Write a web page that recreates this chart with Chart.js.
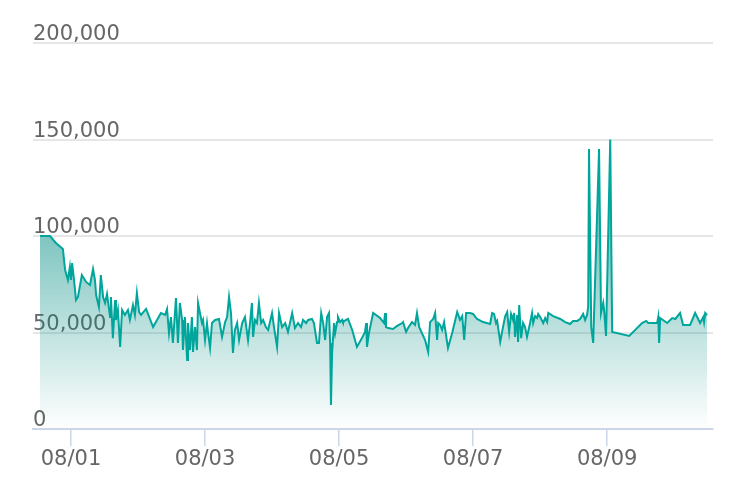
<!DOCTYPE html>
<html>
<head>
<meta charset="utf-8">
<script src="https://cdn.jsdelivr.net/npm/chart.js@4.4.1/dist/chart.umd.min.js"></script>
<style>
  html, body { margin: 0; padding: 0; background: #fff; }
  #wrap { width: 740px; height: 500px; }
</style>
</head>
<body>
<div id="wrap"><canvas id="myChart" width="740" height="500"></canvas></div>
<script>
// hours counted from 07/31 00:00
const hours = [
    12.9, 16.5, 18.6, 21.1, 21.9, 22.9, 23.6, 24.0, 24.4, 25.1,
    25.8, 26.5, 27.9, 29.4, 30.8, 31.9, 32.6, 33.0, 34.0, 34.7,
    35.5, 36.2, 36.9, 38.0, 38.3, 39.0, 39.8, 40.1, 40.8, 41.6,
    42.3, 43.3, 44.4, 45.1, 46.2, 46.9, 47.6, 48.4, 49.1, 50.9,
    53.4, 56.2, 57.7, 58.4, 59.1, 59.8, 60.5, 61.6, 62.3, 63.0,
    63.8,
    64.1, 64.8, 65.6, 65.9, 66.6, 67.3, 67.7, 68.4, 69.1, 69.5,
    70.2, 70.9, 71.3, 72.0, 72.7, 73.1, 73.8, 74.5, 75.6, 77.0,
    78.1, 79.2, 79.9, 80.6, 81.3, 82.0, 82.7, 83.5, 84.2, 85.3,
    86.3, 87.4, 88.1, 88.8, 89.2, 89.9, 90.6, 91.3, 92.1, 92.8,
    93.8, 94.6, 96.0, 96.7, 97.8, 98.5, 99.6, 100.7, 101.7, 103.2,
    104.2, 105.3, 106.4, 107.1, 108.2, 108.9, 110.3, 111.0, 112.1, 112.8,
    113.6, 114.3, 115.0, 115.7, 116.4,
    116.8, 117.1, 117.5, 118.2, 118.6, 119.3, 119.6, 120.4, 121.1, 121.4,
    122.5, 123.2, 124.7, 126.4, 128.2, 129.3, 129.7, 130.0, 130.7, 132.2,
    134.7, 136.1, 136.5, 136.8, 137.6, 139.3, 140.8, 142.6, 142.9, 144.0,
    144.7, 146.1, 147.2, 147.9, 148.7, 150.8, 151.9, 152.6, 153.7, 154.4,
    155.1, 155.5, 156.2, 156.9, 157.6, 159.0, 160.5, 162.3, 163.3, 164.1,
    164.8, 165.5, 166.9, 168.0,
    169.4, 171.6, 174.1, 174.8, 175.5, 176.2, 176.6, 177.7, 178.7, 179.5,
    180.2, 180.9, 181.6, 182.3, 182.7, 183.0, 183.8, 184.1, 184.5, 185.2,
    185.9, 186.6, 187.3, 187.7, 188.4, 189.1, 189.5, 190.2, 190.9, 191.3,
    192.0, 193.1, 193.8, 194.5, 194.9, 196.7, 199.2, 201.0, 202.7, 203.8,
    205.3, 206.3, 207.4, 208.1, 208.8, 209.2, 209.5, 210.3, 211.0, 213.1,
    213.8, 214.6, 214.9, 215.6, 217.1, 217.8, 223.9, 228.5, 230.0, 230.7,
    233.9, 234.3, 234.6, 235.0, 237.5, 239.3, 240.4, 242.1, 243.2, 245.7,
    247.5, 249.3, 250.4, 250.7, 251.1, 251.8
];

const visits = [
    100000, 100000, 96400, 93300, 82400, 77200, 83900, 77200, 86000, 77200,
    66800, 68400, 79800, 76200, 74600, 82900, 77200, 69400, 63200, 79800,
    68400, 65300, 69900, 58000, 68400, 47100, 66800, 56500, 61700, 42500,
    61700, 59100, 61700, 56500, 64200, 59100, 70500, 60600, 59100, 62200,
    52800, 60100, 59100, 62200, 49700, 58000, 44600, 67900, 44600, 65300,
    56500,
    40900, 58000, 35700, 54900, 40900, 58000, 39900, 52800, 40900, 65300,
    60100, 54900, 56500, 46100, 54900, 49700, 42000, 54900, 56500, 57000,
    47700, 55400, 58000, 68400, 60100, 39400, 51300, 54900, 46100, 54900,
    58000, 46100, 54900, 65300, 47700, 56500, 54900, 65300, 54900, 56500,
    52800, 51300, 60100, 52800, 42500, 60100, 52800, 54900, 50300, 60100,
    52300, 54900, 52800, 56500, 54900, 56500, 57000, 54900, 44600, 44600,
    60100, 54900, 46100, 58000, 60100,
    44600, 12400, 39400, 54900, 49700, 55400, 58000, 55400, 56500, 55400,
    56500, 57000, 51300, 42500, 47100, 50300, 54900, 42500, 49700, 60100,
    57500, 54900, 60100, 52800, 52300, 51800, 53400, 54900, 55400, 50300,
    52300, 55400, 53900, 60100, 52800, 46100, 39900, 55400, 57000, 60100,
    46100, 54900, 53900, 51300, 55400, 42000, 49700, 60600, 56500, 58500,
    46100, 60100, 60100, 59600,
    57000, 55400, 54400, 60100, 59600, 54900, 56000, 45100, 52800, 58500,
    60600, 50300, 59600, 56500, 60100, 47700, 59100, 45100, 64200, 47100,
    54900, 52800, 47700, 50300, 54900, 60100, 54900, 58500, 57500, 59600,
    58000, 54900, 57500, 55400, 60100, 58500, 57000, 55400, 54400, 56000,
    56000, 57000, 59600, 56500, 59100, 63200, 145100, 52800, 44600, 145100,
    60100, 65300, 61700, 48200, 150000, 50300, 48200, 54900, 56000, 54900,
    54900, 58000, 44600, 57500, 54900, 57500, 57000, 60100, 53900, 53900,
    60100, 54900, 58000, 55400, 60100, 59100
];

const tickHours = [24, 72, 120, 168, 216];
const tickLabels = ['08/01', '08/03', '08/05', '08/07', '08/09'];
const yTicks = [0, 50000, 100000, 150000, 200000];

const points = hours.map((h, i) => ({ x: h, y: visits[i] }));

const labelFont = { family: 'DejaVu Sans', size: 21 };

function areaGradient(context) {
    const area = context.chart.chartArea;
    if (!area) return 'rgba(0, 140, 130, 0.3)';
    const g = context.chart.ctx.createLinearGradient(0, area.top, 0, area.bottom);
    g.addColorStop(0, 'rgba(0, 140, 130, 1)');
    g.addColorStop(1, 'rgba(0, 140, 130, 0)');
    return g;
}

const config = {
    type: 'line',
    data: {
        datasets: [{
            data: points,
            borderColor: '#00a69c',
            borderWidth: 2,
            backgroundColor: areaGradient,
            fill: 'origin',
            pointRadius: 0,
            tension: 0
        }]
    },
    options: {
        responsive: false,
        animation: false,
        layout: { padding: { left: 33, right: 27, top: 43, bottom: 0 } },
        plugins: { legend: { display: false }, tooltip: { enabled: false } },
        scales: {
            x: {
                type: 'linear',
                min: 10.4,
                max: 253.9,
                afterBuildTicks: s => { s.ticks = tickHours.map(v => ({ value: v })); },
                afterFit: s => { s.height = 71; },
                grid: { drawOnChartArea: false, color: '#ccd6eb', lineWidth: 1.5, tickLength: 17 },
                border: { color: '#ccd6eb', width: 2 },
                ticks: {
                    color: '#666',
                    font: labelFont,
                    padding: 1,
                    maxRotation: 0,
                    autoSkip: false,
                    callback: v => tickLabels[tickHours.indexOf(v)]
                }
            },
            y: {
                min: 0,
                max: 200000,
                afterBuildTicks: s => { s.ticks = yTicks.map(v => ({ value: v })); },
                grid: {
                    color: c => c.tick && c.tick.value === 0 ? 'rgba(0,0,0,0)' : '#e6e6e6',
                    lineWidth: 2,
                    drawTicks: false
                },
                border: { display: false },
                ticks: {
                    mirror: true,
                    padding: 0,
                    labelOffset: -8,
                    color: '#666',
                    font: labelFont,
                    callback: v => v.toLocaleString('en-US')
                }
            }
        }
    }
};

const myChart = new Chart(document.getElementById('myChart'), config);
</script>
</body>
</html>
